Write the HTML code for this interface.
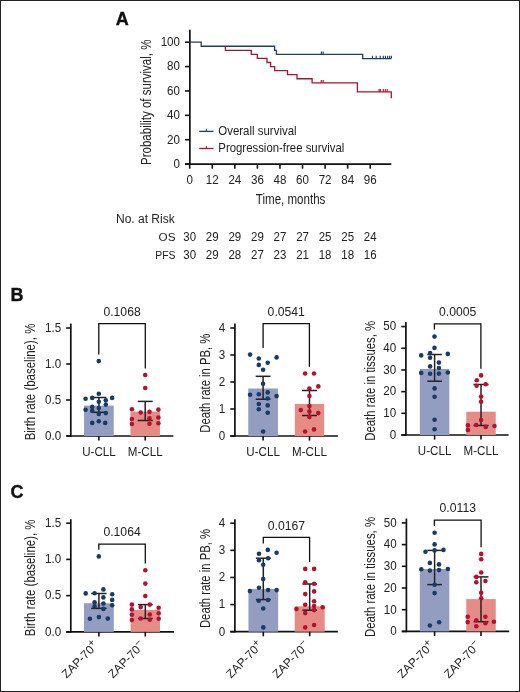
<!DOCTYPE html>
<html><head><meta charset="utf-8"><title>Figure</title>
<style>
html,body{margin:0;padding:0;background:#fff;}
body{width:520px;height:692px;overflow:hidden;}
svg{display:block;font-family:"Liberation Sans", sans-serif;will-change:transform;}
</style></head>
<body>
<svg width="520" height="692" viewBox="0 0 520 692">
<rect x="0" y="0" width="520" height="692" fill="#fff"/>
<text x="115.8" y="25.4" font-size="18" text-anchor="start" font-weight="bold" fill="#111" stroke="#111" stroke-width="0.35">A</text>
<line x1="189.85" y1="29.8" x2="189.85" y2="164.9" stroke="#111" stroke-width="1.7"/>
<line x1="185.0" y1="164.1" x2="391.3" y2="164.1" stroke="#111" stroke-width="1.7"/>
<line x1="185.0" y1="164.1" x2="189.8" y2="164.1" stroke="#111" stroke-width="1.6"/>
<text transform="translate(180.0,167.9) scale(0.899,1)" x="0" y="0" font-size="12.9" text-anchor="end" fill="#222">0</text>
<line x1="185.0" y1="139.72" x2="189.8" y2="139.72" stroke="#111" stroke-width="1.6"/>
<text transform="translate(180.0,143.52) scale(0.899,1)" x="0" y="0" font-size="12.9" text-anchor="end" fill="#222">20</text>
<line x1="185.0" y1="115.34" x2="189.8" y2="115.34" stroke="#111" stroke-width="1.6"/>
<text transform="translate(180.0,119.14) scale(0.899,1)" x="0" y="0" font-size="12.9" text-anchor="end" fill="#222">40</text>
<line x1="185.0" y1="90.96" x2="189.8" y2="90.96" stroke="#111" stroke-width="1.6"/>
<text transform="translate(180.0,94.76) scale(0.899,1)" x="0" y="0" font-size="12.9" text-anchor="end" fill="#222">60</text>
<line x1="185.0" y1="66.58" x2="189.8" y2="66.58" stroke="#111" stroke-width="1.6"/>
<text transform="translate(180.0,70.38) scale(0.899,1)" x="0" y="0" font-size="12.9" text-anchor="end" fill="#222">80</text>
<line x1="185.0" y1="42.2" x2="189.8" y2="42.2" stroke="#111" stroke-width="1.6"/>
<text transform="translate(180.0,46.0) scale(0.899,1)" x="0" y="0" font-size="12.9" text-anchor="end" fill="#222">100</text>
<line x1="189.7" y1="164.1" x2="189.7" y2="168.7" stroke="#111" stroke-width="1.6"/>
<text transform="translate(189.7,184.2) scale(0.899,1)" x="0" y="0" font-size="12.9" text-anchor="middle" fill="#222">0</text>
<line x1="212.266" y1="164.1" x2="212.266" y2="168.7" stroke="#111" stroke-width="1.6"/>
<text transform="translate(212.266,184.2) scale(0.899,1)" x="0" y="0" font-size="12.9" text-anchor="middle" fill="#222">12</text>
<line x1="234.832" y1="164.1" x2="234.832" y2="168.7" stroke="#111" stroke-width="1.6"/>
<text transform="translate(234.832,184.2) scale(0.899,1)" x="0" y="0" font-size="12.9" text-anchor="middle" fill="#222">24</text>
<line x1="257.398" y1="164.1" x2="257.398" y2="168.7" stroke="#111" stroke-width="1.6"/>
<text transform="translate(257.398,184.2) scale(0.899,1)" x="0" y="0" font-size="12.9" text-anchor="middle" fill="#222">36</text>
<line x1="279.964" y1="164.1" x2="279.964" y2="168.7" stroke="#111" stroke-width="1.6"/>
<text transform="translate(279.964,184.2) scale(0.899,1)" x="0" y="0" font-size="12.9" text-anchor="middle" fill="#222">48</text>
<line x1="302.53" y1="164.1" x2="302.53" y2="168.7" stroke="#111" stroke-width="1.6"/>
<text transform="translate(302.53,184.2) scale(0.899,1)" x="0" y="0" font-size="12.9" text-anchor="middle" fill="#222">60</text>
<line x1="325.096" y1="164.1" x2="325.096" y2="168.7" stroke="#111" stroke-width="1.6"/>
<text transform="translate(325.096,184.2) scale(0.899,1)" x="0" y="0" font-size="12.9" text-anchor="middle" fill="#222">72</text>
<line x1="347.662" y1="164.1" x2="347.662" y2="168.7" stroke="#111" stroke-width="1.6"/>
<text transform="translate(347.662,184.2) scale(0.899,1)" x="0" y="0" font-size="12.9" text-anchor="middle" fill="#222">84</text>
<line x1="370.228" y1="164.1" x2="370.228" y2="168.7" stroke="#111" stroke-width="1.6"/>
<text transform="translate(370.228,184.2) scale(0.899,1)" x="0" y="0" font-size="12.9" text-anchor="middle" fill="#222">96</text>
<text x="290.6" y="204.2" font-size="14.5" text-anchor="middle" font-weight="normal" fill="#222" textLength="69.6" lengthAdjust="spacingAndGlyphs" >Time, months</text>
<text transform="translate(151.2,102.3) rotate(-90)" x="0" y="0" font-size="14.5" text-anchor="middle" fill="#222" textLength="125.4" lengthAdjust="spacingAndGlyphs">Probability of survival, %</text>
<path d="M225.40,46.26 L225.40,50.33 L251.30,50.33 L251.30,54.39 L257.30,54.39 L257.30,58.45 L267.00,58.45 L267.00,62.52 L270.60,62.52 L270.60,66.58 L274.70,66.58 L274.70,70.64 L287.50,70.64 L287.50,74.70 L297.00,74.70 L297.00,78.77 L312.10,78.77 L312.10,82.83 L357.40,82.83 L357.40,91.80 L391.30,91.80 L391.30,98.30" fill="none" stroke="#a51431" stroke-width="1.3"/>
<line x1="321.3" y1="82.83" x2="321.3" y2="79.93" stroke="#a51431" stroke-width="1.15"/>
<line x1="323.2" y1="82.83" x2="323.2" y2="79.93" stroke="#a51431" stroke-width="1.15"/>
<line x1="379.1" y1="91.8" x2="379.1" y2="88.9" stroke="#a51431" stroke-width="1.15"/>
<line x1="380.3" y1="91.8" x2="380.3" y2="88.9" stroke="#a51431" stroke-width="1.15"/>
<line x1="383.3" y1="91.8" x2="383.3" y2="88.9" stroke="#a51431" stroke-width="1.15"/>
<line x1="385.3" y1="91.8" x2="385.3" y2="88.9" stroke="#a51431" stroke-width="1.15"/>
<line x1="387.3" y1="91.8" x2="387.3" y2="88.9" stroke="#a51431" stroke-width="1.15"/>
<path d="M189.70,42.20 L201.20,42.20 L201.20,46.26 L274.60,46.26 L274.60,50.33 L276.40,50.33 L276.40,54.39 L362.70,54.39 L362.70,58.60 L391.30,58.60" fill="none" stroke="#223b67" stroke-width="1.3"/>
<line x1="321.4" y1="54.389" x2="321.4" y2="51.589" stroke="#223b67" stroke-width="1.15"/>
<line x1="323.2" y1="54.389" x2="323.2" y2="51.589" stroke="#223b67" stroke-width="1.15"/>
<line x1="372.4" y1="58.6" x2="372.4" y2="55.8" stroke="#223b67" stroke-width="1.15"/>
<line x1="376.2" y1="58.6" x2="376.2" y2="55.8" stroke="#223b67" stroke-width="1.15"/>
<line x1="380.2" y1="58.6" x2="380.2" y2="55.8" stroke="#223b67" stroke-width="1.15"/>
<line x1="383.3" y1="58.6" x2="383.3" y2="55.8" stroke="#223b67" stroke-width="1.15"/>
<line x1="385.4" y1="58.6" x2="385.4" y2="55.8" stroke="#223b67" stroke-width="1.15"/>
<line x1="387.6" y1="58.6" x2="387.6" y2="55.8" stroke="#223b67" stroke-width="1.15"/>
<line x1="389.6" y1="58.6" x2="389.6" y2="55.8" stroke="#223b67" stroke-width="1.15"/>
<line x1="391.4" y1="58.6" x2="391.4" y2="55.8" stroke="#223b67" stroke-width="1.15"/>
<line x1="199.2" y1="131.4" x2="213.5" y2="131.4" stroke="#223b67" stroke-width="1.3"/>
<line x1="206.4" y1="131.4" x2="206.4" y2="128.8" stroke="#223b67" stroke-width="1.0"/>
<text transform="translate(218.3,134.8) scale(0.939,1)" x="0" y="0" font-size="12.2" text-anchor="start" fill="#222">Overall survival</text>
<line x1="199.2" y1="148.5" x2="213.5" y2="148.5" stroke="#a51431" stroke-width="1.3"/>
<line x1="206.4" y1="148.5" x2="206.4" y2="145.9" stroke="#a51431" stroke-width="1.0"/>
<text transform="translate(218.3,151.7) scale(0.934,1)" x="0" y="0" font-size="12.2" text-anchor="start" fill="#222">Progression-free survival</text>
<text x="116.0" y="223.2" font-size="12" text-anchor="start" font-weight="normal" fill="#222" >No. at Risk</text>
<text x="175.5" y="240.9" font-size="11.7" text-anchor="end" font-weight="normal" fill="#222" >OS</text>
<text x="175.5" y="258.8" font-size="11.7" text-anchor="end" font-weight="normal" fill="#222" textLength="20.2" lengthAdjust="spacingAndGlyphs" >PFS</text>
<text transform="translate(189.7,241.0) scale(0.898,1)" x="0" y="0" font-size="12.8" text-anchor="middle" fill="#222">30</text>
<text transform="translate(189.7,259.2) scale(0.898,1)" x="0" y="0" font-size="12.8" text-anchor="middle" fill="#222">30</text>
<text transform="translate(212.266,241.0) scale(0.898,1)" x="0" y="0" font-size="12.8" text-anchor="middle" fill="#222">29</text>
<text transform="translate(212.266,259.2) scale(0.898,1)" x="0" y="0" font-size="12.8" text-anchor="middle" fill="#222">29</text>
<text transform="translate(234.832,241.0) scale(0.898,1)" x="0" y="0" font-size="12.8" text-anchor="middle" fill="#222">29</text>
<text transform="translate(234.832,259.2) scale(0.898,1)" x="0" y="0" font-size="12.8" text-anchor="middle" fill="#222">28</text>
<text transform="translate(257.398,241.0) scale(0.898,1)" x="0" y="0" font-size="12.8" text-anchor="middle" fill="#222">29</text>
<text transform="translate(257.398,259.2) scale(0.898,1)" x="0" y="0" font-size="12.8" text-anchor="middle" fill="#222">27</text>
<text transform="translate(279.964,241.0) scale(0.898,1)" x="0" y="0" font-size="12.8" text-anchor="middle" fill="#222">27</text>
<text transform="translate(279.964,259.2) scale(0.898,1)" x="0" y="0" font-size="12.8" text-anchor="middle" fill="#222">23</text>
<text transform="translate(302.53,241.0) scale(0.898,1)" x="0" y="0" font-size="12.8" text-anchor="middle" fill="#222">27</text>
<text transform="translate(302.53,259.2) scale(0.898,1)" x="0" y="0" font-size="12.8" text-anchor="middle" fill="#222">21</text>
<text transform="translate(325.096,241.0) scale(0.898,1)" x="0" y="0" font-size="12.8" text-anchor="middle" fill="#222">25</text>
<text transform="translate(325.096,259.2) scale(0.898,1)" x="0" y="0" font-size="12.8" text-anchor="middle" fill="#222">18</text>
<text transform="translate(347.662,241.0) scale(0.898,1)" x="0" y="0" font-size="12.8" text-anchor="middle" fill="#222">25</text>
<text transform="translate(347.662,259.2) scale(0.898,1)" x="0" y="0" font-size="12.8" text-anchor="middle" fill="#222">18</text>
<text transform="translate(370.228,241.0) scale(0.898,1)" x="0" y="0" font-size="12.8" text-anchor="middle" fill="#222">24</text>
<text transform="translate(370.228,259.2) scale(0.898,1)" x="0" y="0" font-size="12.8" text-anchor="middle" fill="#222">16</text>
<text x="10.5" y="300.9" font-size="18" text-anchor="start" font-weight="bold" fill="#111" stroke="#111" stroke-width="0.35">B</text>
<text x="10.5" y="498.1" font-size="18" text-anchor="start" font-weight="bold" fill="#111" stroke="#111" stroke-width="0.35">C</text>
<line x1="70.8" y1="323.6" x2="70.8" y2="436.8" stroke="#111" stroke-width="1.7"/>
<line x1="66.2" y1="436.0" x2="173.4" y2="436.0" stroke="#111" stroke-width="1.7"/>
<line x1="66.2" y1="436.0" x2="70.8" y2="436.0" stroke="#111" stroke-width="1.6"/>
<text transform="translate(61.1,439.8) scale(0.899,1)" x="0" y="0" font-size="12.9" text-anchor="end" fill="#222">0.0</text>
<line x1="66.2" y1="400.0" x2="70.8" y2="400.0" stroke="#111" stroke-width="1.6"/>
<text transform="translate(61.1,403.8) scale(0.899,1)" x="0" y="0" font-size="12.9" text-anchor="end" fill="#222">0.5</text>
<line x1="66.2" y1="364.0" x2="70.8" y2="364.0" stroke="#111" stroke-width="1.6"/>
<text transform="translate(61.1,367.8) scale(0.899,1)" x="0" y="0" font-size="12.9" text-anchor="end" fill="#222">1.0</text>
<line x1="66.2" y1="328.0" x2="70.8" y2="328.0" stroke="#111" stroke-width="1.6"/>
<text transform="translate(61.1,331.8) scale(0.899,1)" x="0" y="0" font-size="12.9" text-anchor="end" fill="#222">1.5</text>
<rect x="84.05" y="405.6" width="29.7" height="30.4" fill="#939dc1"/>
<line x1="98.9" y1="436.0" x2="98.9" y2="440.6" stroke="#111" stroke-width="1.6"/>
<rect x="130.45" y="411.6" width="29.5" height="24.4" fill="#e58c87"/>
<line x1="145.2" y1="436.0" x2="145.2" y2="440.6" stroke="#111" stroke-width="1.6"/>
<line x1="98.9" y1="397.5" x2="98.9" y2="412.3" stroke="#222" stroke-width="1.5"/>
<line x1="91.5" y1="397.5" x2="106.3" y2="397.5" stroke="#222" stroke-width="1.5"/>
<line x1="91.5" y1="412.3" x2="106.3" y2="412.3" stroke="#222" stroke-width="1.5"/>
<line x1="145.2" y1="401.4" x2="145.2" y2="420.5" stroke="#222" stroke-width="1.5"/>
<line x1="137.7" y1="401.4" x2="152.7" y2="401.4" stroke="#222" stroke-width="1.5"/>
<line x1="137.7" y1="420.5" x2="152.7" y2="420.5" stroke="#222" stroke-width="1.5"/>
<circle cx="98.8" cy="361.1" r="2.3" fill="#193a66"/>
<circle cx="98.8" cy="393.8" r="2.3" fill="#193a66"/>
<circle cx="85.6" cy="398.7" r="2.3" fill="#193a66"/>
<circle cx="92.2" cy="397.9" r="2.3" fill="#193a66"/>
<circle cx="112.1" cy="397.9" r="2.3" fill="#193a66"/>
<circle cx="105.8" cy="400.2" r="2.3" fill="#193a66"/>
<circle cx="98.8" cy="401.7" r="2.3" fill="#193a66"/>
<circle cx="105.8" cy="404.6" r="2.3" fill="#193a66"/>
<circle cx="92.2" cy="406.9" r="2.3" fill="#193a66"/>
<circle cx="98.8" cy="408.0" r="2.3" fill="#193a66"/>
<circle cx="85.6" cy="409.8" r="2.3" fill="#193a66"/>
<circle cx="92.2" cy="410.9" r="2.3" fill="#193a66"/>
<circle cx="98.8" cy="414.0" r="2.3" fill="#193a66"/>
<circle cx="105.8" cy="413.1" r="2.3" fill="#193a66"/>
<circle cx="92.2" cy="422.9" r="2.3" fill="#193a66"/>
<circle cx="98.8" cy="421.3" r="2.3" fill="#193a66"/>
<circle cx="105.2" cy="422.9" r="2.3" fill="#193a66"/>
<circle cx="145.2" cy="375.0" r="2.3" fill="#b80f2f"/>
<circle cx="145.2" cy="388.0" r="2.3" fill="#b80f2f"/>
<circle cx="131.9" cy="409.2" r="2.3" fill="#b80f2f"/>
<circle cx="158.4" cy="409.6" r="2.3" fill="#b80f2f"/>
<circle cx="140.7" cy="412.6" r="2.3" fill="#b80f2f"/>
<circle cx="149.5" cy="411.9" r="2.3" fill="#b80f2f"/>
<circle cx="131.9" cy="419.0" r="2.3" fill="#b80f2f"/>
<circle cx="149.5" cy="418.4" r="2.3" fill="#b80f2f"/>
<circle cx="158.4" cy="417.5" r="2.3" fill="#b80f2f"/>
<circle cx="131.9" cy="424.0" r="2.3" fill="#b80f2f"/>
<circle cx="149.5" cy="423.7" r="2.3" fill="#b80f2f"/>
<circle cx="158.4" cy="423.3" r="2.3" fill="#b80f2f"/>
<path d="M98.8,354.6 L98.8,323.6 L145.3,323.6 L145.3,368.5" fill="none" stroke="#111" stroke-width="1.3"/>
<text x="122.05" y="315.5" font-size="12.2" text-anchor="middle" font-weight="normal" fill="#222" >0.1068</text>
<text transform="translate(34.7,382.0) rotate(-90)" x="0" y="0" font-size="14.4" text-anchor="middle" fill="#222" textLength="116.7" lengthAdjust="spacingAndGlyphs">Birth rate (baseline), %</text>
<text transform="translate(98.9,455.8) scale(0.928,1)" x="0" y="0" font-size="12.5" text-anchor="middle" fill="#222">U-CLL</text>
<text transform="translate(145.2,455.8) scale(0.928,1)" x="0" y="0" font-size="12.5" text-anchor="middle" fill="#222">M-CLL</text>
<line x1="234.9" y1="323.5" x2="234.9" y2="436.8" stroke="#111" stroke-width="1.7"/>
<line x1="230.3" y1="436.0" x2="337.9" y2="436.0" stroke="#111" stroke-width="1.7"/>
<line x1="230.3" y1="436.0" x2="234.9" y2="436.0" stroke="#111" stroke-width="1.6"/>
<text transform="translate(225.2,439.8) scale(0.899,1)" x="0" y="0" font-size="12.9" text-anchor="end" fill="#222">0</text>
<line x1="230.3" y1="409.0" x2="234.9" y2="409.0" stroke="#111" stroke-width="1.6"/>
<text transform="translate(225.2,412.8) scale(0.899,1)" x="0" y="0" font-size="12.9" text-anchor="end" fill="#222">1</text>
<line x1="230.3" y1="382.0" x2="234.9" y2="382.0" stroke="#111" stroke-width="1.6"/>
<text transform="translate(225.2,385.8) scale(0.899,1)" x="0" y="0" font-size="12.9" text-anchor="end" fill="#222">2</text>
<line x1="230.3" y1="355.0" x2="234.9" y2="355.0" stroke="#111" stroke-width="1.6"/>
<text transform="translate(225.2,358.8) scale(0.899,1)" x="0" y="0" font-size="12.9" text-anchor="end" fill="#222">3</text>
<line x1="230.3" y1="328.0" x2="234.9" y2="328.0" stroke="#111" stroke-width="1.6"/>
<text transform="translate(225.2,331.8) scale(0.899,1)" x="0" y="0" font-size="12.9" text-anchor="end" fill="#222">4</text>
<rect x="248.25" y="388.5" width="29.7" height="47.5" fill="#939dc1"/>
<line x1="263.1" y1="436.0" x2="263.1" y2="440.6" stroke="#111" stroke-width="1.6"/>
<rect x="294.85" y="404.0" width="29.3" height="32.0" fill="#e58c87"/>
<line x1="309.5" y1="436.0" x2="309.5" y2="440.6" stroke="#111" stroke-width="1.6"/>
<line x1="263.1" y1="376.3" x2="263.1" y2="399.2" stroke="#222" stroke-width="1.5"/>
<line x1="255.7" y1="376.3" x2="270.5" y2="376.3" stroke="#222" stroke-width="1.5"/>
<line x1="255.7" y1="399.2" x2="270.5" y2="399.2" stroke="#222" stroke-width="1.5"/>
<line x1="309.5" y1="390.5" x2="309.5" y2="415.5" stroke="#222" stroke-width="1.5"/>
<line x1="302.0" y1="390.5" x2="317.0" y2="390.5" stroke="#222" stroke-width="1.5"/>
<line x1="302.0" y1="415.5" x2="317.0" y2="415.5" stroke="#222" stroke-width="1.5"/>
<circle cx="250.1" cy="354.6" r="2.3" fill="#193a66"/>
<circle cx="276.6" cy="357.4" r="2.3" fill="#193a66"/>
<circle cx="258.8" cy="358.5" r="2.3" fill="#193a66"/>
<circle cx="267.7" cy="362.8" r="2.3" fill="#193a66"/>
<circle cx="258.8" cy="364.9" r="2.3" fill="#193a66"/>
<circle cx="263.1" cy="369.7" r="2.3" fill="#193a66"/>
<circle cx="263.1" cy="383.7" r="2.3" fill="#193a66"/>
<circle cx="267.7" cy="392.4" r="2.3" fill="#193a66"/>
<circle cx="250.1" cy="394.7" r="2.3" fill="#193a66"/>
<circle cx="258.8" cy="394.2" r="2.3" fill="#193a66"/>
<circle cx="276.6" cy="396.1" r="2.3" fill="#193a66"/>
<circle cx="267.7" cy="398.5" r="2.3" fill="#193a66"/>
<circle cx="258.8" cy="404.0" r="2.3" fill="#193a66"/>
<circle cx="267.7" cy="405.4" r="2.3" fill="#193a66"/>
<circle cx="258.8" cy="409.3" r="2.3" fill="#193a66"/>
<circle cx="267.7" cy="412.7" r="2.3" fill="#193a66"/>
<circle cx="263.1" cy="431.5" r="2.3" fill="#193a66"/>
<circle cx="305.1" cy="373.5" r="2.3" fill="#b80f2f"/>
<circle cx="314.0" cy="373.5" r="2.3" fill="#b80f2f"/>
<circle cx="318.3" cy="386.4" r="2.3" fill="#b80f2f"/>
<circle cx="309.4" cy="388.5" r="2.3" fill="#b80f2f"/>
<circle cx="309.4" cy="396.0" r="2.3" fill="#b80f2f"/>
<circle cx="309.4" cy="406.1" r="2.3" fill="#b80f2f"/>
<circle cx="300.8" cy="410.1" r="2.3" fill="#b80f2f"/>
<circle cx="309.4" cy="411.6" r="2.3" fill="#b80f2f"/>
<circle cx="318.3" cy="413.1" r="2.3" fill="#b80f2f"/>
<circle cx="309.4" cy="417.1" r="2.3" fill="#b80f2f"/>
<circle cx="314.0" cy="429.4" r="2.3" fill="#b80f2f"/>
<circle cx="305.1" cy="431.5" r="2.3" fill="#b80f2f"/>
<path d="M263.1,348.0 L263.1,323.6 L309.4,323.6 L309.4,366.8" fill="none" stroke="#111" stroke-width="1.3"/>
<text x="286.25" y="315.5" font-size="12.2" text-anchor="middle" font-weight="normal" fill="#222" >0.0541</text>
<text transform="translate(209.7,383.2) rotate(-90)" x="0" y="0" font-size="14.4" text-anchor="middle" fill="#222" textLength="99.1" lengthAdjust="spacingAndGlyphs">Death rate in PB, %</text>
<text transform="translate(263.1,455.8) scale(0.928,1)" x="0" y="0" font-size="12.5" text-anchor="middle" fill="#222">U-CLL</text>
<text transform="translate(309.5,455.8) scale(0.928,1)" x="0" y="0" font-size="12.5" text-anchor="middle" fill="#222">M-CLL</text>
<line x1="405.9" y1="321.9" x2="405.9" y2="435.8" stroke="#111" stroke-width="1.7"/>
<line x1="401.3" y1="435.0" x2="508.6" y2="435.0" stroke="#111" stroke-width="1.7"/>
<line x1="401.3" y1="435.0" x2="405.9" y2="435.0" stroke="#111" stroke-width="1.6"/>
<text transform="translate(396.2,438.8) scale(0.899,1)" x="0" y="0" font-size="12.9" text-anchor="end" fill="#222">0</text>
<line x1="401.3" y1="413.32" x2="405.9" y2="413.32" stroke="#111" stroke-width="1.6"/>
<text transform="translate(396.2,417.12) scale(0.899,1)" x="0" y="0" font-size="12.9" text-anchor="end" fill="#222">10</text>
<line x1="401.3" y1="391.64" x2="405.9" y2="391.64" stroke="#111" stroke-width="1.6"/>
<text transform="translate(396.2,395.44) scale(0.899,1)" x="0" y="0" font-size="12.9" text-anchor="end" fill="#222">20</text>
<line x1="401.3" y1="369.96" x2="405.9" y2="369.96" stroke="#111" stroke-width="1.6"/>
<text transform="translate(396.2,373.76) scale(0.899,1)" x="0" y="0" font-size="12.9" text-anchor="end" fill="#222">30</text>
<line x1="401.3" y1="348.28" x2="405.9" y2="348.28" stroke="#111" stroke-width="1.6"/>
<text transform="translate(396.2,352.08) scale(0.899,1)" x="0" y="0" font-size="12.9" text-anchor="end" fill="#222">40</text>
<line x1="401.3" y1="326.6" x2="405.9" y2="326.6" stroke="#111" stroke-width="1.6"/>
<text transform="translate(396.2,330.4) scale(0.899,1)" x="0" y="0" font-size="12.9" text-anchor="end" fill="#222">50</text>
<rect x="419.85" y="369.0" width="29.5" height="66.0" fill="#939dc1"/>
<line x1="434.6" y1="435.0" x2="434.6" y2="439.6" stroke="#111" stroke-width="1.6"/>
<rect x="466.25" y="411.7" width="29.5" height="23.3" fill="#e58c87"/>
<line x1="481.0" y1="435.0" x2="481.0" y2="439.6" stroke="#111" stroke-width="1.6"/>
<line x1="434.6" y1="354.5" x2="434.6" y2="381.2" stroke="#222" stroke-width="1.5"/>
<line x1="427.3" y1="354.5" x2="441.9" y2="354.5" stroke="#222" stroke-width="1.5"/>
<line x1="427.3" y1="381.2" x2="441.9" y2="381.2" stroke="#222" stroke-width="1.5"/>
<line x1="481.0" y1="384.5" x2="481.0" y2="425.5" stroke="#222" stroke-width="1.5"/>
<line x1="473.45" y1="384.5" x2="488.55" y2="384.5" stroke="#222" stroke-width="1.5"/>
<line x1="473.45" y1="425.5" x2="488.55" y2="425.5" stroke="#222" stroke-width="1.5"/>
<circle cx="434.5" cy="336.6" r="2.3" fill="#193a66"/>
<circle cx="434.5" cy="347.9" r="2.3" fill="#193a66"/>
<circle cx="421.2" cy="355.4" r="2.3" fill="#193a66"/>
<circle cx="430.1" cy="353.1" r="2.3" fill="#193a66"/>
<circle cx="430.1" cy="357.7" r="2.3" fill="#193a66"/>
<circle cx="447.8" cy="353.9" r="2.3" fill="#193a66"/>
<circle cx="438.9" cy="362.6" r="2.3" fill="#193a66"/>
<circle cx="430.1" cy="366.4" r="2.3" fill="#193a66"/>
<circle cx="438.9" cy="368.0" r="2.3" fill="#193a66"/>
<circle cx="421.2" cy="372.9" r="2.3" fill="#193a66"/>
<circle cx="430.1" cy="373.7" r="2.3" fill="#193a66"/>
<circle cx="438.9" cy="373.6" r="2.3" fill="#193a66"/>
<circle cx="447.8" cy="372.5" r="2.3" fill="#193a66"/>
<circle cx="434.6" cy="388.4" r="2.3" fill="#193a66"/>
<circle cx="434.6" cy="396.7" r="2.3" fill="#193a66"/>
<circle cx="434.6" cy="419.7" r="2.3" fill="#193a66"/>
<circle cx="434.6" cy="429.2" r="2.3" fill="#193a66"/>
<circle cx="481.1" cy="375.4" r="2.3" fill="#b80f2f"/>
<circle cx="476.8" cy="380.3" r="2.3" fill="#b80f2f"/>
<circle cx="476.6" cy="385.7" r="2.3" fill="#b80f2f"/>
<circle cx="485.7" cy="384.3" r="2.3" fill="#b80f2f"/>
<circle cx="481.1" cy="396.5" r="2.3" fill="#b80f2f"/>
<circle cx="481.1" cy="401.7" r="2.3" fill="#b80f2f"/>
<circle cx="481.1" cy="420.0" r="2.3" fill="#b80f2f"/>
<circle cx="467.9" cy="425.4" r="2.3" fill="#b80f2f"/>
<circle cx="476.2" cy="425.0" r="2.3" fill="#b80f2f"/>
<circle cx="485.7" cy="426.9" r="2.3" fill="#b80f2f"/>
<circle cx="494.5" cy="426.0" r="2.3" fill="#b80f2f"/>
<circle cx="467.9" cy="430.0" r="2.3" fill="#b80f2f"/>
<path d="M434.4,329.5 L434.4,323.8 L480.9,323.8 L480.9,368.7" fill="none" stroke="#111" stroke-width="1.3"/>
<text x="457.65" y="315.5" font-size="12.2" text-anchor="middle" font-weight="normal" fill="#222" >0.0005</text>
<text transform="translate(374.8,380.8) rotate(-90)" x="0" y="0" font-size="14.4" text-anchor="middle" fill="#222" textLength="120.0" lengthAdjust="spacingAndGlyphs">Death rate in tissues, %</text>
<text transform="translate(434.6,454.8) scale(0.928,1)" x="0" y="0" font-size="12.5" text-anchor="middle" fill="#222">U-CLL</text>
<text transform="translate(481.0,454.8) scale(0.928,1)" x="0" y="0" font-size="12.5" text-anchor="middle" fill="#222">M-CLL</text>
<line x1="70.8" y1="519.2" x2="70.8" y2="632.7" stroke="#111" stroke-width="1.7"/>
<line x1="66.2" y1="631.9" x2="174.0" y2="631.9" stroke="#111" stroke-width="1.7"/>
<line x1="66.2" y1="631.9" x2="70.8" y2="631.9" stroke="#111" stroke-width="1.6"/>
<text transform="translate(61.1,635.7) scale(0.899,1)" x="0" y="0" font-size="12.9" text-anchor="end" fill="#222">0.0</text>
<line x1="66.2" y1="595.65" x2="70.8" y2="595.65" stroke="#111" stroke-width="1.6"/>
<text transform="translate(61.1,599.45) scale(0.899,1)" x="0" y="0" font-size="12.9" text-anchor="end" fill="#222">0.5</text>
<line x1="66.2" y1="559.4" x2="70.8" y2="559.4" stroke="#111" stroke-width="1.6"/>
<text transform="translate(61.1,563.2) scale(0.899,1)" x="0" y="0" font-size="12.9" text-anchor="end" fill="#222">1.0</text>
<line x1="66.2" y1="523.15" x2="70.8" y2="523.15" stroke="#111" stroke-width="1.6"/>
<text transform="translate(61.1,526.95) scale(0.899,1)" x="0" y="0" font-size="12.9" text-anchor="end" fill="#222">1.5</text>
<rect x="84.0" y="603.2" width="29.8" height="28.7" fill="#939dc1"/>
<line x1="98.9" y1="631.9" x2="98.9" y2="636.5" stroke="#111" stroke-width="1.6"/>
<rect x="130.6" y="609.9" width="29.4" height="22.0" fill="#e58c87"/>
<line x1="145.3" y1="631.9" x2="145.3" y2="636.5" stroke="#111" stroke-width="1.6"/>
<line x1="98.9" y1="593.5" x2="98.9" y2="608.4" stroke="#222" stroke-width="1.5"/>
<line x1="91.2" y1="593.5" x2="106.6" y2="593.5" stroke="#222" stroke-width="1.5"/>
<line x1="91.2" y1="608.4" x2="106.6" y2="608.4" stroke="#222" stroke-width="1.5"/>
<line x1="145.3" y1="604.6" x2="145.3" y2="618.5" stroke="#222" stroke-width="1.5"/>
<line x1="137.9" y1="604.6" x2="152.7" y2="604.6" stroke="#222" stroke-width="1.5"/>
<line x1="137.9" y1="618.5" x2="152.7" y2="618.5" stroke="#222" stroke-width="1.5"/>
<circle cx="98.8" cy="556.4" r="2.3" fill="#193a66"/>
<circle cx="103.4" cy="589.4" r="2.3" fill="#193a66"/>
<circle cx="85.7" cy="593.4" r="2.3" fill="#193a66"/>
<circle cx="94.6" cy="593.2" r="2.3" fill="#193a66"/>
<circle cx="112.2" cy="594.3" r="2.3" fill="#193a66"/>
<circle cx="103.4" cy="597.4" r="2.3" fill="#193a66"/>
<circle cx="112.2" cy="599.9" r="2.3" fill="#193a66"/>
<circle cx="94.6" cy="602.3" r="2.3" fill="#193a66"/>
<circle cx="103.4" cy="603.5" r="2.3" fill="#193a66"/>
<circle cx="112.2" cy="605.2" r="2.3" fill="#193a66"/>
<circle cx="94.6" cy="606.4" r="2.3" fill="#193a66"/>
<circle cx="103.4" cy="608.9" r="2.3" fill="#193a66"/>
<circle cx="89.9" cy="618.7" r="2.3" fill="#193a66"/>
<circle cx="98.9" cy="617.1" r="2.3" fill="#193a66"/>
<circle cx="107.8" cy="618.6" r="2.3" fill="#193a66"/>
<circle cx="145.3" cy="570.3" r="2.3" fill="#b80f2f"/>
<circle cx="145.3" cy="583.6" r="2.3" fill="#b80f2f"/>
<circle cx="145.3" cy="596.0" r="2.3" fill="#b80f2f"/>
<circle cx="131.9" cy="604.6" r="2.3" fill="#b80f2f"/>
<circle cx="131.9" cy="609.4" r="2.3" fill="#b80f2f"/>
<circle cx="131.9" cy="614.7" r="2.3" fill="#b80f2f"/>
<circle cx="131.9" cy="620.0" r="2.3" fill="#b80f2f"/>
<circle cx="140.7" cy="607.1" r="2.3" fill="#b80f2f"/>
<circle cx="149.8" cy="604.6" r="2.3" fill="#b80f2f"/>
<circle cx="158.7" cy="607.8" r="2.3" fill="#b80f2f"/>
<circle cx="158.7" cy="613.2" r="2.3" fill="#b80f2f"/>
<circle cx="158.7" cy="618.7" r="2.3" fill="#b80f2f"/>
<circle cx="149.8" cy="614.5" r="2.3" fill="#b80f2f"/>
<circle cx="140.7" cy="618.5" r="2.3" fill="#b80f2f"/>
<circle cx="149.8" cy="619.7" r="2.3" fill="#b80f2f"/>
<path d="M98.8,549.7 L98.8,544.2 L145.3,544.2 L145.3,563.4" fill="none" stroke="#111" stroke-width="1.3"/>
<text x="122.05" y="536.1" font-size="12.2" text-anchor="middle" font-weight="normal" fill="#222" >0.1064</text>
<text transform="translate(34.7,577.8) rotate(-90)" x="0" y="0" font-size="14.4" text-anchor="middle" fill="#222" textLength="116.7" lengthAdjust="spacingAndGlyphs">Birth rate (baseline), %</text>
<text transform="translate(99.2,646.1) rotate(-45)" x="0" y="0" font-size="11.8" text-anchor="end" fill="#222">ZAP-70<tspan font-size="10.5" dy="-4.6">+</tspan></text>
<text transform="translate(145.6,646.1) rotate(-45)" x="0" y="0" font-size="11.8" text-anchor="end" fill="#222">ZAP-70<tspan font-size="10.5" dy="-4.6">&#8722;</tspan></text>
<line x1="234.9" y1="519.2" x2="234.9" y2="632.5" stroke="#111" stroke-width="1.7"/>
<line x1="230.3" y1="631.7" x2="337.9" y2="631.7" stroke="#111" stroke-width="1.7"/>
<line x1="230.3" y1="631.7" x2="234.9" y2="631.7" stroke="#111" stroke-width="1.6"/>
<text transform="translate(225.2,635.5) scale(0.899,1)" x="0" y="0" font-size="12.9" text-anchor="end" fill="#222">0</text>
<line x1="230.3" y1="604.58" x2="234.9" y2="604.58" stroke="#111" stroke-width="1.6"/>
<text transform="translate(225.2,608.38) scale(0.899,1)" x="0" y="0" font-size="12.9" text-anchor="end" fill="#222">1</text>
<line x1="230.3" y1="577.46" x2="234.9" y2="577.46" stroke="#111" stroke-width="1.6"/>
<text transform="translate(225.2,581.26) scale(0.899,1)" x="0" y="0" font-size="12.9" text-anchor="end" fill="#222">2</text>
<line x1="230.3" y1="550.34" x2="234.9" y2="550.34" stroke="#111" stroke-width="1.6"/>
<text transform="translate(225.2,554.14) scale(0.899,1)" x="0" y="0" font-size="12.9" text-anchor="end" fill="#222">3</text>
<line x1="230.3" y1="523.22" x2="234.9" y2="523.22" stroke="#111" stroke-width="1.6"/>
<text transform="translate(225.2,527.02) scale(0.899,1)" x="0" y="0" font-size="12.9" text-anchor="end" fill="#222">4</text>
<rect x="248.45" y="589.0" width="29.7" height="42.7" fill="#939dc1"/>
<line x1="263.3" y1="631.7" x2="263.3" y2="636.3" stroke="#111" stroke-width="1.6"/>
<rect x="294.7" y="606.3" width="30.0" height="25.4" fill="#e58c87"/>
<line x1="309.7" y1="631.7" x2="309.7" y2="636.3" stroke="#111" stroke-width="1.6"/>
<line x1="263.3" y1="558.2" x2="263.3" y2="599.6" stroke="#222" stroke-width="1.5"/>
<line x1="255.9" y1="558.2" x2="270.7" y2="558.2" stroke="#222" stroke-width="1.5"/>
<line x1="255.9" y1="599.6" x2="270.7" y2="599.6" stroke="#222" stroke-width="1.5"/>
<line x1="309.7" y1="584.0" x2="309.7" y2="610.2" stroke="#222" stroke-width="1.5"/>
<line x1="302.4" y1="584.0" x2="317.0" y2="584.0" stroke="#222" stroke-width="1.5"/>
<line x1="302.4" y1="610.2" x2="317.0" y2="610.2" stroke="#222" stroke-width="1.5"/>
<circle cx="267.8" cy="549.9" r="2.3" fill="#193a66"/>
<circle cx="259.0" cy="553.7" r="2.3" fill="#193a66"/>
<circle cx="276.6" cy="552.7" r="2.3" fill="#193a66"/>
<circle cx="259.0" cy="560.3" r="2.3" fill="#193a66"/>
<circle cx="268.1" cy="558.2" r="2.3" fill="#193a66"/>
<circle cx="263.2" cy="564.8" r="2.3" fill="#193a66"/>
<circle cx="263.2" cy="579.0" r="2.3" fill="#193a66"/>
<circle cx="259.0" cy="587.8" r="2.3" fill="#193a66"/>
<circle cx="249.9" cy="591.1" r="2.3" fill="#193a66"/>
<circle cx="268.1" cy="590.1" r="2.3" fill="#193a66"/>
<circle cx="276.6" cy="590.1" r="2.3" fill="#193a66"/>
<circle cx="258.7" cy="600.8" r="2.3" fill="#193a66"/>
<circle cx="268.1" cy="600.0" r="2.3" fill="#193a66"/>
<circle cx="263.2" cy="608.5" r="2.3" fill="#193a66"/>
<circle cx="263.3" cy="627.4" r="2.3" fill="#193a66"/>
<circle cx="305.2" cy="568.9" r="2.3" fill="#b80f2f"/>
<circle cx="314.1" cy="568.9" r="2.3" fill="#b80f2f"/>
<circle cx="305.2" cy="582.2" r="2.3" fill="#b80f2f"/>
<circle cx="314.1" cy="583.8" r="2.3" fill="#b80f2f"/>
<circle cx="314.1" cy="591.4" r="2.3" fill="#b80f2f"/>
<circle cx="305.2" cy="594.1" r="2.3" fill="#b80f2f"/>
<circle cx="314.1" cy="601.2" r="2.3" fill="#b80f2f"/>
<circle cx="305.2" cy="604.7" r="2.3" fill="#b80f2f"/>
<circle cx="314.1" cy="606.1" r="2.3" fill="#b80f2f"/>
<circle cx="296.5" cy="609.0" r="2.3" fill="#b80f2f"/>
<circle cx="322.7" cy="607.2" r="2.3" fill="#b80f2f"/>
<circle cx="314.1" cy="610.1" r="2.3" fill="#b80f2f"/>
<circle cx="305.2" cy="613.1" r="2.3" fill="#b80f2f"/>
<circle cx="314.1" cy="625.0" r="2.3" fill="#b80f2f"/>
<circle cx="305.2" cy="627.4" r="2.3" fill="#b80f2f"/>
<path d="M263.3,543.4 L263.3,537.4 L309.6,537.4 L309.6,562.1" fill="none" stroke="#111" stroke-width="1.3"/>
<text x="286.45" y="529.7" font-size="12.2" text-anchor="middle" font-weight="normal" fill="#222" >0.0167</text>
<text transform="translate(209.7,578.5) rotate(-90)" x="0" y="0" font-size="14.4" text-anchor="middle" fill="#222" textLength="99.1" lengthAdjust="spacingAndGlyphs">Death rate in PB, %</text>
<text transform="translate(263.6,646.1) rotate(-45)" x="0" y="0" font-size="11.8" text-anchor="end" fill="#222">ZAP-70<tspan font-size="10.5" dy="-4.6">+</tspan></text>
<text transform="translate(310.0,646.1) rotate(-45)" x="0" y="0" font-size="11.8" text-anchor="end" fill="#222">ZAP-70<tspan font-size="10.5" dy="-4.6">&#8722;</tspan></text>
<line x1="406.4" y1="518.5" x2="406.4" y2="632.2" stroke="#111" stroke-width="1.7"/>
<line x1="401.8" y1="631.4" x2="509.2" y2="631.4" stroke="#111" stroke-width="1.7"/>
<line x1="401.8" y1="631.4" x2="406.4" y2="631.4" stroke="#111" stroke-width="1.6"/>
<text transform="translate(396.7,635.2) scale(0.899,1)" x="0" y="0" font-size="12.9" text-anchor="end" fill="#222">0</text>
<line x1="401.8" y1="609.7" x2="406.4" y2="609.7" stroke="#111" stroke-width="1.6"/>
<text transform="translate(396.7,613.5) scale(0.899,1)" x="0" y="0" font-size="12.9" text-anchor="end" fill="#222">10</text>
<line x1="401.8" y1="588.0" x2="406.4" y2="588.0" stroke="#111" stroke-width="1.6"/>
<text transform="translate(396.7,591.8) scale(0.899,1)" x="0" y="0" font-size="12.9" text-anchor="end" fill="#222">20</text>
<line x1="401.8" y1="566.3" x2="406.4" y2="566.3" stroke="#111" stroke-width="1.6"/>
<text transform="translate(396.7,570.1) scale(0.899,1)" x="0" y="0" font-size="12.9" text-anchor="end" fill="#222">30</text>
<line x1="401.8" y1="544.6" x2="406.4" y2="544.6" stroke="#111" stroke-width="1.6"/>
<text transform="translate(396.7,548.4) scale(0.899,1)" x="0" y="0" font-size="12.9" text-anchor="end" fill="#222">40</text>
<line x1="401.8" y1="522.9" x2="406.4" y2="522.9" stroke="#111" stroke-width="1.6"/>
<text transform="translate(396.7,526.7) scale(0.899,1)" x="0" y="0" font-size="12.9" text-anchor="end" fill="#222">50</text>
<rect x="419.85" y="569.0" width="29.5" height="62.4" fill="#939dc1"/>
<line x1="434.6" y1="631.4" x2="434.6" y2="636.0" stroke="#111" stroke-width="1.6"/>
<rect x="466.25" y="599.1" width="29.5" height="32.3" fill="#e58c87"/>
<line x1="481.0" y1="631.4" x2="481.0" y2="636.0" stroke="#111" stroke-width="1.6"/>
<line x1="434.6" y1="550.4" x2="434.6" y2="584.6" stroke="#222" stroke-width="1.5"/>
<line x1="427.3" y1="550.4" x2="441.9" y2="550.4" stroke="#222" stroke-width="1.5"/>
<line x1="427.3" y1="584.6" x2="441.9" y2="584.6" stroke="#222" stroke-width="1.5"/>
<line x1="481.0" y1="576.9" x2="481.0" y2="621.7" stroke="#222" stroke-width="1.5"/>
<line x1="473.55" y1="576.9" x2="488.45" y2="576.9" stroke="#222" stroke-width="1.5"/>
<line x1="473.55" y1="621.7" x2="488.45" y2="621.7" stroke="#222" stroke-width="1.5"/>
<circle cx="434.6" cy="532.8" r="2.3" fill="#193a66"/>
<circle cx="434.6" cy="544.4" r="2.3" fill="#193a66"/>
<circle cx="425.5" cy="551.7" r="2.3" fill="#193a66"/>
<circle cx="434.6" cy="550.4" r="2.3" fill="#193a66"/>
<circle cx="443.5" cy="549.9" r="2.3" fill="#193a66"/>
<circle cx="429.9" cy="562.9" r="2.3" fill="#193a66"/>
<circle cx="439.0" cy="564.4" r="2.3" fill="#193a66"/>
<circle cx="421.3" cy="569.3" r="2.3" fill="#193a66"/>
<circle cx="429.9" cy="570.6" r="2.3" fill="#193a66"/>
<circle cx="439.0" cy="570.1" r="2.3" fill="#193a66"/>
<circle cx="447.9" cy="569.0" r="2.3" fill="#193a66"/>
<circle cx="434.6" cy="584.8" r="2.3" fill="#193a66"/>
<circle cx="434.6" cy="593.1" r="2.3" fill="#193a66"/>
<circle cx="439.1" cy="622.2" r="2.3" fill="#193a66"/>
<circle cx="429.9" cy="625.5" r="2.3" fill="#193a66"/>
<circle cx="481.2" cy="553.9" r="2.3" fill="#b80f2f"/>
<circle cx="481.2" cy="559.3" r="2.3" fill="#b80f2f"/>
<circle cx="481.2" cy="572.5" r="2.3" fill="#b80f2f"/>
<circle cx="476.3" cy="576.9" r="2.3" fill="#b80f2f"/>
<circle cx="476.3" cy="582.3" r="2.3" fill="#b80f2f"/>
<circle cx="485.4" cy="581.0" r="2.3" fill="#b80f2f"/>
<circle cx="481.2" cy="592.8" r="2.3" fill="#b80f2f"/>
<circle cx="481.2" cy="598.2" r="2.3" fill="#b80f2f"/>
<circle cx="467.7" cy="616.7" r="2.3" fill="#b80f2f"/>
<circle cx="485.4" cy="616.7" r="2.3" fill="#b80f2f"/>
<circle cx="467.7" cy="622.1" r="2.3" fill="#b80f2f"/>
<circle cx="476.3" cy="620.3" r="2.3" fill="#b80f2f"/>
<circle cx="485.4" cy="623.2" r="2.3" fill="#b80f2f"/>
<circle cx="493.9" cy="621.7" r="2.3" fill="#b80f2f"/>
<circle cx="476.3" cy="626.3" r="2.3" fill="#b80f2f"/>
<path d="M434.4,525.9 L434.4,520.2 L481.1,520.2 L481.1,547.2" fill="none" stroke="#111" stroke-width="1.3"/>
<text x="457.75" y="512.4" font-size="12.2" text-anchor="middle" font-weight="normal" fill="#222" >0.0113</text>
<text transform="translate(374.8,577.0) rotate(-90)" x="0" y="0" font-size="14.4" text-anchor="middle" fill="#222" textLength="120.0" lengthAdjust="spacingAndGlyphs">Death rate in tissues, %</text>
<text transform="translate(434.9,646.1) rotate(-45)" x="0" y="0" font-size="11.8" text-anchor="end" fill="#222">ZAP-70<tspan font-size="10.5" dy="-4.6">+</tspan></text>
<text transform="translate(481.3,646.1) rotate(-45)" x="0" y="0" font-size="11.8" text-anchor="end" fill="#222">ZAP-70<tspan font-size="10.5" dy="-4.6">&#8722;</tspan></text>
<rect x="0.5" y="0.5" width="519" height="691" fill="none" stroke="#222" stroke-width="1"/>
</svg>
</body></html>
